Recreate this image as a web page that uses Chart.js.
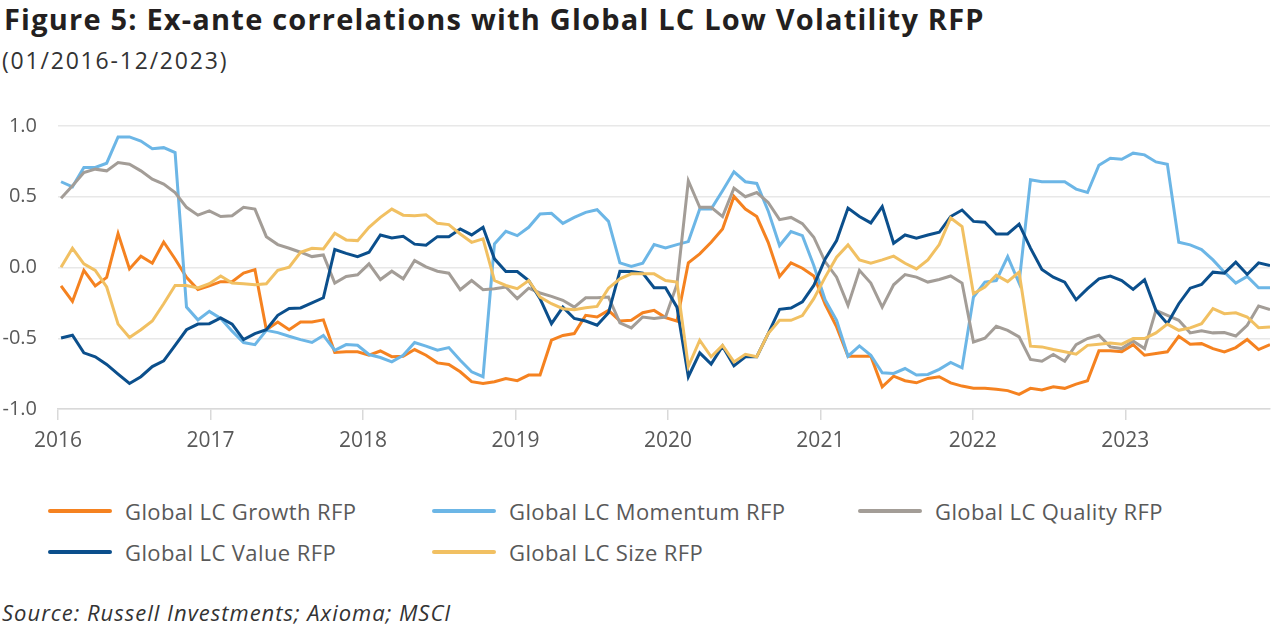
<!DOCTYPE html>
<html>
<head>
<meta charset="utf-8">
<script src="https://cdn.jsdelivr.net/npm/chart.js@4.4.1/dist/chart.umd.min.js"></script>
<style>
body{margin:0;background:#fff;font-family:"Open Sans",sans-serif;}
#page{position:relative;width:1280px;height:630px;overflow:hidden;}
#title{position:absolute;left:4px;top:-1px;font-size:29px;font-weight:700;color:#231f20;white-space:nowrap;letter-spacing:1.2px;}
#subtitle{position:absolute;left:2px;top:44px;font-size:23px;color:#333;white-space:nowrap;letter-spacing:1.8px;}
#chartBox{position:absolute;left:0;top:93px;width:1280px;height:367px;}
.leg{position:absolute;display:flex;align-items:center;font-size:22px;color:#595959;white-space:nowrap;letter-spacing:0.4px;}
.leg span{display:inline-block;width:64px;height:4px;border-radius:2px;margin-right:13px;}
#source{position:absolute;left:2px;top:597px;font-size:22px;font-style:italic;color:#333;white-space:nowrap;letter-spacing:1px;}
</style>
</head>
<body>
<div id="page">
<div id="title">Figure 5: Ex-ante correlations with Global LC Low Volatility RFP</div>
<div id="subtitle">(01/2016-12/2023)</div>
<div id="chartBox"><canvas id="chart"></canvas></div>
<div id="legend"></div>
<div id="source">Source: Russell Investments; Axioma; MSCI</div>
</div>
<script>
// one point roughly every four weeks, first point just after the 2016 tick
const startYear = 2016.02;
const stepYears = 0.0748;
const yearLabels = ["2016","2017","2018","2019","2020","2021","2022","2023"];
const yTickValues = [-1, -0.5, 0, 0.5, 1];

const seriesNames = ["Global LC Growth RFP","Global LC Momentum RFP","Global LC Quality RFP","Global LC Value RFP","Global LC Size RFP"];
const seriesColors = ["#f58220","#6cb6e6","#a39d97","#0b4f8c","#f1c062"];

const growth = [-0.13,-0.24,-0.02,-0.13,-0.07,0.24,-0.01,0.08,0.03,0.18,0.06,-0.07,-0.155,-0.13,-0.10,
-0.10,-0.04,-0.015,-0.44,-0.385,-0.44,-0.385,-0.385,-0.37,-0.60,-0.596,-0.596,-0.62,-0.59,-0.63,
-0.627,-0.58,-0.62,-0.674,-0.685,-0.737,-0.807,-0.82,-0.807,-0.784,-0.80,-0.76,-0.76,-0.514,-0.48,-0.467,-0.338,-0.35,-0.303,-0.378,
-0.373,-0.32,-0.303,-0.354,-0.378,0.033,0.096,0.178,0.272,0.502,0.413,0.36,0.178,-0.063,0.033,-0.005,-0.06,-0.26,
-0.42,-0.627,-0.627,-0.627,-0.843,-0.768,-0.80,-0.815,-0.784,-0.772,-0.815,-0.838,-0.854,-0.854,-0.86,-0.87,-0.897,
-0.854,-0.866,-0.843,-0.854,-0.824,-0.80,-0.589,-0.589,-0.596,-0.545,-0.62,-0.608,-0.596,-0.486,-0.542,-0.538,-0.573,-0.596,-0.566,-0.509,-0.58,-0.545];

const momentum = [0.606,0.57,0.707,0.707,0.737,0.923,0.923,0.894,0.84,0.847,0.812,-0.28,-0.37,-0.31,-0.36,
-0.45,-0.53,-0.545,-0.444,-0.46,-0.486,-0.51,-0.53,-0.48,-0.585,-0.545,-0.55,-0.615,-0.636,-0.667,-0.62,-0.53,-0.556,
-0.585,-0.566,-0.655,-0.737,-0.772,0.167,0.256,0.225,0.284,0.378,0.383,0.312,0.354,0.39,0.408,0.326,0.033,
0.007,0.03,0.162,0.138,0.162,0.183,0.413,0.413,0.542,0.676,0.606,0.594,0.40,0.155,0.254,0.225,0.014,-0.23,
-0.373,-0.627,-0.554,-0.62,-0.744,-0.749,-0.714,-0.76,-0.756,-0.72,-0.671,-0.709,-0.209,-0.103,-0.092,0.077,-0.11,0.62,
0.606,0.606,0.606,0.554,0.53,0.723,0.772,0.765,0.808,0.796,0.746,0.73,0.178,0.16,0.127,0.054,-0.033,-0.11,-0.063,-0.143,-0.143];

const quality = [0.49,0.577,0.671,0.695,0.683,0.742,0.73,0.683,0.624,0.589,0.53,0.425,0.37,0.40,0.36,
0.366,0.425,0.413,0.218,0.162,0.136,0.108,0.077,0.089,-0.11,-0.063,-0.052,0.026,-0.085,-0.026,-0.08,0.049,0.005,
-0.026,-0.04,-0.157,-0.092,-0.157,-0.15,-0.138,-0.22,-0.146,-0.18,-0.204,-0.232,-0.28,-0.214,-0.214,-0.209,-0.392,-0.427,
-0.35,-0.36,-0.35,-0.12,0.613,0.425,0.425,0.36,0.561,0.50,0.53,0.46,0.338,0.354,0.31,0.214,0.04,
-0.068,-0.268,-0.02,-0.11,-0.28,-0.122,-0.05,-0.068,-0.103,-0.085,-0.06,-0.11,-0.526,-0.50,-0.415,-0.444,-0.49,-0.65,
-0.662,-0.615,-0.662,-0.545,-0.502,-0.479,-0.561,-0.573,-0.519,-0.573,-0.303,-0.338,-0.373,-0.462,-0.448,-0.462,-0.46,-0.484,-0.408,-0.272,-0.298];

const value = [-0.498,-0.479,-0.603,-0.631,-0.685,-0.754,-0.82,-0.772,-0.70,-0.66,-0.55,-0.44,-0.40,-0.397,-0.356,
-0.40,-0.51,-0.467,-0.44,-0.338,-0.29,-0.286,-0.25,-0.214,0.127,0.10,0.077,0.108,0.23,0.209,0.22,0.165,0.157,
0.218,0.218,0.272,0.23,0.284,0.061,-0.028,-0.028,-0.092,-0.22,-0.397,-0.28,-0.36,-0.378,-0.408,-0.32,-0.026,-0.028,
-0.04,-0.143,-0.143,-0.28,-0.772,-0.603,-0.683,-0.556,-0.695,-0.631,-0.631,-0.467,-0.296,-0.286,-0.242,-0.127,0.06,
0.19,0.42,0.36,0.315,0.43,0.171,0.23,0.207,0.23,0.249,0.36,0.406,0.326,0.32,0.237,0.237,0.307,0.137,
-0.014,-0.068,-0.103,-0.228,-0.15,-0.08,-0.061,-0.092,-0.155,-0.087,-0.303,-0.397,-0.256,-0.146,-0.12,-0.033,-0.04,0.038,-0.049,0.033,0.014];

const size = [0.002,0.136,0.026,-0.02,-0.138,-0.40,-0.495,-0.44,-0.378,-0.256,-0.127,-0.127,-0.145,-0.115,-0.06,
-0.11,-0.115,-0.122,-0.115,-0.02,0.002,0.108,0.136,0.131,0.242,0.195,0.19,0.284,0.354,0.413,0.37,0.366,0.373,
0.312,0.303,0.237,0.178,0.202,-0.092,-0.127,-0.15,-0.092,-0.209,-0.256,-0.291,-0.298,-0.284,-0.275,-0.146,-0.08,-0.045,
-0.045,-0.045,-0.092,-0.103,-0.70,-0.514,-0.631,-0.55,-0.667,-0.613,-0.631,-0.467,-0.373,-0.373,-0.34,-0.22,-0.068,
0.073,0.16,0.054,0.03,0.054,0.08,0.03,-0.01,0.054,0.162,0.35,0.289,-0.185,-0.138,-0.054,-0.10,-0.033,-0.556,
-0.561,-0.58,-0.596,-0.613,-0.55,-0.542,-0.533,-0.542,-0.502,-0.502,-0.462,-0.40,-0.444,-0.427,-0.397,-0.291,-0.326,-0.32,-0.35,-0.425,-0.42];

const allSeries = [growth, momentum, quality, value, size];

function toPoints(values){
return values.map((v,i)=>({x:startYear + i*stepYears, y:v}));
}

// draw order: size and value under the others, like the original
const drawOrder = [4,3,2,1,0];

const datasets = seriesNames.map((name,k)=>({
label:name,
data:toPoints(allSeries[k]),
borderColor:seriesColors[k],
backgroundColor:seriesColors[k],
borderWidth:3,
pointRadius:0,
tension:0,
order:drawOrder[k]
}));

const ctx = document.getElementById("chart");
new Chart(ctx,{
type:"line",
data:{datasets:datasets},
options:{
responsive:true,
maintainAspectRatio:false,
animation:false,
layout:{padding:{left:0,right:10,top:19,bottom:0}},
plugins:{legend:{display:false},tooltip:{enabled:false}},
scales:{
x:{
type:"linear",
min:2016,
max:2016.02 + 106*0.0748,
afterBuildTicks:(scale)=>{
scale.ticks = yearLabels.map((l,i)=>({value:2016+i}));
},
afterFit:(scale)=>{scale.height = 51;},
grid:{drawOnChartArea:false,drawTicks:true,tickLength:11,color:"#d9d9d9",lineWidth:1.5},
border:{display:true,color:"#d9d9d9",width:1.5},
ticks:{
padding:8,
color:"#595959",
font:{family:"Open Sans",size:21},
maxRotation:0,
autoSkip:false,
callback:(v)=>yearLabels[Math.round(v-2016)]
}
},
y:{
min:-1,
max:1,
afterBuildTicks:(scale)=>{
scale.ticks = yTickValues.map(v=>({value:v}));
},
afterFit:(scale)=>{scale.width = 58;},
grid:{color:"#e8e8e8",lineWidth:1.5,drawTicks:false},
border:{display:false},
ticks:{
padding:21,
color:"#595959",
font:{family:"Open Sans",size:20},
callback:(v)=>v.toFixed(1)
}
}
}
}
});

// legend in the same 3-column grid as the original
const legendPos = [[48,512],[432,512],[858,512],[48,553],[432,553]];
const legendDiv = document.getElementById("legend");
seriesNames.forEach((name,k)=>{
legendDiv.innerHTML += `<div class="leg" style="left:${legendPos[k][0]}px;top:${legendPos[k][1]-16}px"><span style="background:${seriesColors[k]}"></span>${name}</div>`;
});
</script>
</body>
</html>
